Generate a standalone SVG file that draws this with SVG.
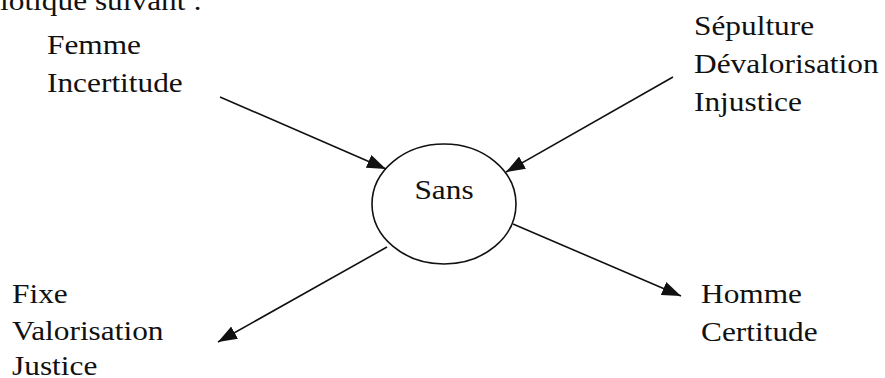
<svg xmlns="http://www.w3.org/2000/svg" width="885" height="378" viewBox="0 0 885 378">
  <style>
    text { font-family: "Liberation Serif", "Times New Roman", Times, serif; font-size: 28px; fill: #111111; }
    .conn { stroke: #111111; stroke-width: 1.6; fill: none; marker-end: url(#arrow); }
    .node { fill: #ffffff; stroke: #111111; stroke-width: 1.6; }
  </style>
  <defs>
    <marker id="arrow" markerUnits="userSpaceOnUse" markerWidth="20" markerHeight="14" refX="19" refY="7" orient="auto">
      <path d="M0,0 L19,7 L0,14 z" fill="#111111"/>
    </marker>
  </defs>
  <rect width="885" height="378" fill="#ffffff"/>
  <g transform="scale(1.12,1)">
    <text id="caption" x="0" y="10">iotique suivant :</text>
  </g>

  <g id="connectors">
    <line class="conn" x1="220" y1="97" x2="386" y2="169"/>
    <line class="conn" x1="673" y1="77" x2="506" y2="172"/>
    <line class="conn" x1="387" y1="247" x2="218" y2="342"/>
    <line class="conn" x1="513" y1="224" x2="681" y2="296"/>
  </g>

  <g id="sans">
    <ellipse class="node" cx="444" cy="204" rx="72" ry="60"/>
    <g transform="translate(444,199) scale(1.12,1)">
      <text x="0" y="0" text-anchor="middle">Sans</text>
    </g>
  </g>

  <g id="femme" transform="translate(47,0) scale(1.12,1)">
    <text x="0" y="54">Femme</text>
    <text x="0" y="92">Incertitude</text>
  </g>

  <g id="sepulture" transform="translate(694,0) scale(1.12,1)">
    <text x="0" y="35">Sépulture</text>
    <text x="0" y="73">Dévalorisation</text>
    <text x="0" y="111">Injustice</text>
  </g>

  <g id="fixe" transform="translate(12,0) scale(1.12,1)">
    <text x="0" y="303">Fixe</text>
    <text x="0" y="340">Valorisation</text>
    <text x="0" y="375">Justice</text>
  </g>

  <g id="homme" transform="translate(701,0) scale(1.12,1)">
    <text x="0" y="303">Homme</text>
    <text x="0" y="341">Certitude</text>
  </g>
</svg>
